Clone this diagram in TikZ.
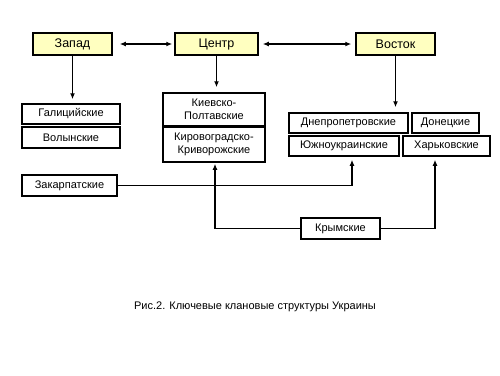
\documentclass[tikz,border=0pt]{standalone}
\usepackage{fontspec}
\setmainfont{Liberation Sans}
\usepackage{xcolor}
\usepackage{tikz}
\usetikzlibrary{arrows.meta, positioning, calc}
\definecolor{regionfill}{HTML}{FFFFC0}

\begin{document}
\begin{tikzpicture}[
  x=1pt, y=-1pt,
  box/.style={rectangle, draw=black, line width=1.5pt, inner sep=0pt, align=center, font=\fontsize{11}{13}\selectfont},
  region/.style={box, fill=regionfill, minimum height=22pt, font=\fontsize{12.5}{14}\selectfont},
  clan/.style={box, fill=white, minimum height=20pt},
  arr/.style={-{Latex[length=6pt, width=5pt]}, line width=1.2pt},
  darr/.style={{Latex[length=6pt, width=5pt]}-{Latex[length=6pt, width=5pt]}, line width=1.2pt},
  caption/.style={font=\fontsize{11}{13}\selectfont}
]
\useasboundingbox (0,0) rectangle (500,375);
\node[region, minimum width=79pt] (zapad) at (72.5, 44) {Запад};
\node[region, minimum width=83pt] (centr) at (216.5, 44) {Центр};
\node[region, minimum width=79pt] (vostok) at (395.5, 44) {Восток};
\node[clan, minimum width=98pt] (galits) at (71, 114) {Галицийские};
\node[clan, minimum width=98pt, minimum height=21pt] (volyn) at (71, 137.5) {Волынские};
\node[clan, minimum width=102pt, minimum height=33pt] (kiev) at (214, 109.5) {Киевско-\\Полтавские};
\node[clan, minimum width=102pt, minimum height=35pt] (kirov) at (214, 144.5) {Кировоградско-\\Криворожские};
\node[clan, minimum width=119pt] (dnepr) at (348.5, 123) {Днепропетровские};
\node[clan, minimum width=67pt] (donets) at (445.5, 123) {Донецкие};
\node[clan, minimum width=110pt] (yuzhno) at (344, 146) {Южноукраинские};
\node[clan, minimum width=87pt] (kharkov) at (446.5, 146) {Харьковские};
\node[clan, minimum width=95pt, minimum height=21pt] (zakarp) at (69.5, 185.5) {Закарпатские};
\node[clan, minimum width=79pt, minimum height=21pt] (krym) at (340.5, 228.5) {Крымские};
\node[caption] (cap) at (255, 307) {Рис.2. Ключевые клановые структуры Украины};
\draw[darr, shorten <=7pt, shorten >=2pt] (zapad) -- (centr);
\draw[darr, shorten <=4pt, shorten >=4pt] (centr) -- (vostok);
\draw[arr, shorten >=4pt] (zapad.south) -- (zapad.south |- galits.north);
\draw[arr, shorten >=5pt] (centr.south) -- (centr.south |- kiev.north);
\draw[arr, shorten >=5pt] (vostok.south) -- (vostok.south |- dnepr.north);
\draw[arr, shorten >=3pt] (zakarp.east) -| ([xshift=8pt]yuzhno.south);
\draw[arr, shorten >=1pt] (krym.west) -| ([xshift=1pt]kirov.south);
\draw[arr, shorten >=3pt] (krym.east) -| ([xshift=-11.5pt]kharkov.south);
\end{tikzpicture}
\end{document}
